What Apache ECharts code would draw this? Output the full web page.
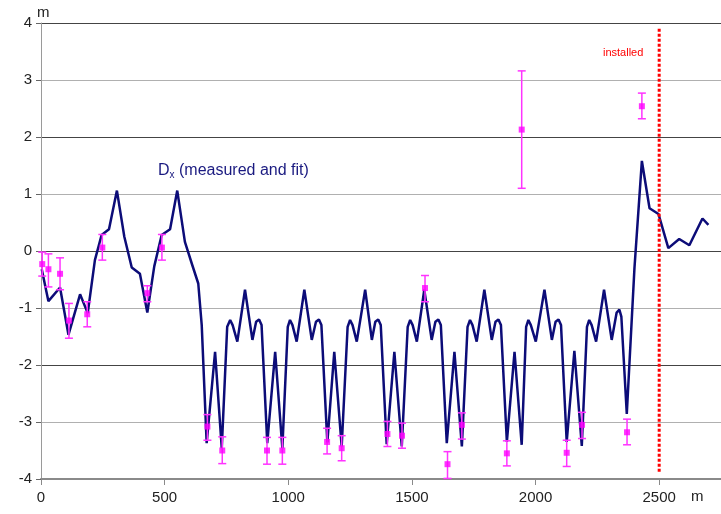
<!DOCTYPE html>
<html>
<head>
<meta charset="utf-8">
<title>Dx measured and fit</title>
<script src="https://cdn.jsdelivr.net/npm/echarts@6/dist/echarts.min.js"></script>
<style>
  html, body { margin: 0; padding: 0; background: #fff; }
  #chart { width: 721px; height: 514px; }
</style>
</head>
<body>
<div id="chart"></div>
<script>
// fit curve (position in m, Dx in m)
var fitX = [3, 30, 77, 111, 158, 189, 218, 245, 275, 307, 337, 367, 400, 430, 458, 488, 522, 551, 582, 612, 636, 650,
  670, 704, 731, 753, 765, 775, 794, 825, 855, 870, 882, 892,
  915, 947, 976, 998, 1007, 1017, 1034, 1065, 1095, 1112, 1124, 1134,
  1158, 1186, 1216, 1240, 1250, 1260, 1277, 1311, 1338, 1352, 1364, 1374,
  1398, 1429, 1459, 1483, 1493, 1503, 1520, 1550, 1580, 1595, 1607, 1617,
  1641, 1672, 1702, 1725, 1735, 1745, 1762, 1793, 1823, 1838, 1850, 1860,
  1884, 1915, 1944, 1962, 1971, 1981, 2001, 2036, 2066, 2081, 2093, 2103,
  2126, 2157, 2187, 2208, 2217, 2227, 2245, 2277, 2308, 2328, 2339, 2347,
  2369, 2400, 2430, 2461, 2497, 2537, 2581, 2622, 2675, 2699];
var fitY = [-0.32, -0.88, -0.64, -1.47, -0.76, -1.09, -0.16, 0.28, 0.38, 1.06, 0.25, -0.29, -0.40, -1.08, -0.27, 0.28, 0.38, 1.06, 0.16, -0.25, -0.57, -1.3,
  -3.37, -1.77, -3.46, -1.33, -1.21, -1.30, -1.59, -0.68, -1.56, -1.24, -1.20, -1.30,
  -3.37, -1.77, -3.46, -1.33, -1.21, -1.30, -1.59, -0.68, -1.56, -1.24, -1.20, -1.30,
  -3.36, -1.77, -3.43, -1.33, -1.21, -1.30, -1.59, -0.68, -1.56, -1.24, -1.20, -1.30,
  -3.39, -1.77, -3.43, -1.33, -1.21, -1.30, -1.59, -0.68, -1.56, -1.24, -1.20, -1.30,
  -3.37, -1.77, -3.43, -1.33, -1.21, -1.30, -1.59, -0.68, -1.56, -1.24, -1.20, -1.30,
  -3.35, -1.77, -3.40, -1.33, -1.21, -1.30, -1.59, -0.68, -1.56, -1.24, -1.20, -1.30,
  -3.35, -1.75, -3.42, -1.33, -1.21, -1.30, -1.59, -0.68, -1.56, -1.08, -1.03, -1.15,
  -2.86, -0.30, 1.58, 0.75, 0.65, 0.05, 0.21, 0.10, 0.57, 0.46];

// measured points with error bars
var measX = [5, 30, 77, 113, 187, 248, 430, 489, 673, 733, 914, 976, 1157, 1216, 1401, 1460, 1553, 1644, 1702, 1884, 1944, 2126, 2188, 2370, 2430];
var measY = [-0.23, -0.32, -0.40, -1.22, -1.11, 0.06, -0.74, 0.06, -3.08, -3.50, -3.50, -3.50, -3.35, -3.46, -3.21, -3.24, -0.65, -3.74, -3.05, -3.55, 2.13, -3.54, -3.05, -3.18, 2.54];
var measLow = [-0.44, -0.63, -0.68, -1.53, -1.33, -0.16, -0.89, -0.16, -3.32, -3.73, -3.74, -3.74, -3.56, -3.68, -3.43, -3.46, -0.89, -3.99, -3.30, -3.77, 1.10, -3.78, -3.29, -3.40, 2.32];
var measHigh = [-0.02, -0.05, -0.12, -0.92, -0.89, 0.29, -0.61, 0.29, -2.87, -3.26, -3.27, -3.27, -3.11, -3.24, -2.99, -3.02, -0.43, -3.52, -2.84, -3.33, 3.16, -3.32, -2.83, -2.95, 2.77];

// installation mark
var installedX = 2500;
var installedY = [3.9, -3.9];

var xTicks = [0, 500, 1000, 1500, 2000, 2500];

var fitData = fitX.map(function (x, i) { return [x, fitY[i]]; });
var measData = measX.map(function (x, i) { return [x, measY[i]]; });
var errData = measX.map(function (x, i) { return [x, measLow[i], measHigh[i]]; });
var installedData = installedY.map(function (y) { return [installedX, y]; });

var myChart = echarts.init(document.getElementById("chart"));
var font = "Liberation Sans, Arial, sans-serif";

var option = {
  backgroundColor: "#fff",
  animation: false,
  grid: { left: 41, right: 0, top: 23, bottom: 35 },
  xAxis: {
    type: "value",
    min: 0,
    max: 2750,
    interval: 500,
    axisLine: { onZero: false, lineStyle: { color: "#8a8a8a", width: 2 } },
    axisTick: { show: true, length: 6, lineStyle: { color: "#8a8a8a" } },
    axisLabel: {
      color: "#222",
      fontSize: 15,
      fontFamily: font,
      margin: 11,
      showMaxLabel: false,
      formatter: function (v) { return xTicks.indexOf(v) >= 0 ? String(v) : ""; }
    },
    splitLine: { show: false }
  },
  yAxis: {
    type: "value",
    min: -4,
    max: 4,
    interval: 1,
    axisLine: { show: true, lineStyle: { color: "#9a9a9a", width: 1 } },
    axisTick: { show: true, length: 5, lineStyle: { color: "#666" } },
    axisLabel: { color: "#222", fontSize: 15, fontFamily: font, margin: 9 },
    splitLine: {
      show: true,
      // even values darker, odd values lighter
      lineStyle: { color: ["#444", "#b0b0b0"], width: 1 }
    }
  },
  graphic: [
    { type: "text", left: 37, top: 5, style: { text: "m", fill: "#222", font: "15px " + font } },
    { type: "text", left: 691, top: 489, style: { text: "m", fill: "#222", font: "15px " + font } },
    {
      type: "text", left: 603, top: 47,
      style: { text: "installed", fill: "#ff0000", font: "11px " + font }
    },
    {
      type: "text", left: 158, top: 163,
      style: {
        text: "{d|D}{s|x}{d| (measured and fit)}",
        rich: {
          d: { fill: "#1a1a80", fontSize: 16, fontFamily: font },
          s: { fill: "#1a1a80", fontSize: 10, fontFamily: font, padding: [8, 0, 0, 0] }
        }
      }
    }
  ],
  series: [
    {
      name: "fit",
      type: "line",
      data: fitData,
      showSymbol: false,
      lineStyle: { color: "#0c0c78", width: 2.5 },
      z: 2
    },
    {
      name: "installed",
      type: "line",
      data: installedData,
      showSymbol: false,
      lineStyle: { color: "#ff0000", width: 3, type: [3, 2] },
      z: 3
    },
    {
      name: "error",
      type: "custom",
      data: errData,
      renderItem: function (params, api) {
        var x = api.value(0);
        var lo = api.coord([x, api.value(1)]);
        var hi = api.coord([x, api.value(2)]);
        var cap = 4;
        var st = { stroke: "#ff33ff", lineWidth: 1.5 };
        return {
          type: "group",
          children: [
            { type: "line", shape: { x1: lo[0], y1: lo[1], x2: hi[0], y2: hi[1] }, style: st },
            { type: "line", shape: { x1: lo[0] - cap, y1: lo[1], x2: lo[0] + cap, y2: lo[1] }, style: st },
            { type: "line", shape: { x1: hi[0] - cap, y1: hi[1], x2: hi[0] + cap, y2: hi[1] }, style: st }
          ]
        };
      },
      z: 4
    },
    {
      name: "measured",
      type: "scatter",
      data: measData,
      symbol: "rect",
      symbolSize: 6,
      itemStyle: { color: "#ff00ff" },
      z: 5
    }
  ]
};
myChart.setOption(option);
window.addEventListener("resize", function () {
  myChart.resize();
});
</script>
</body>
</html>
